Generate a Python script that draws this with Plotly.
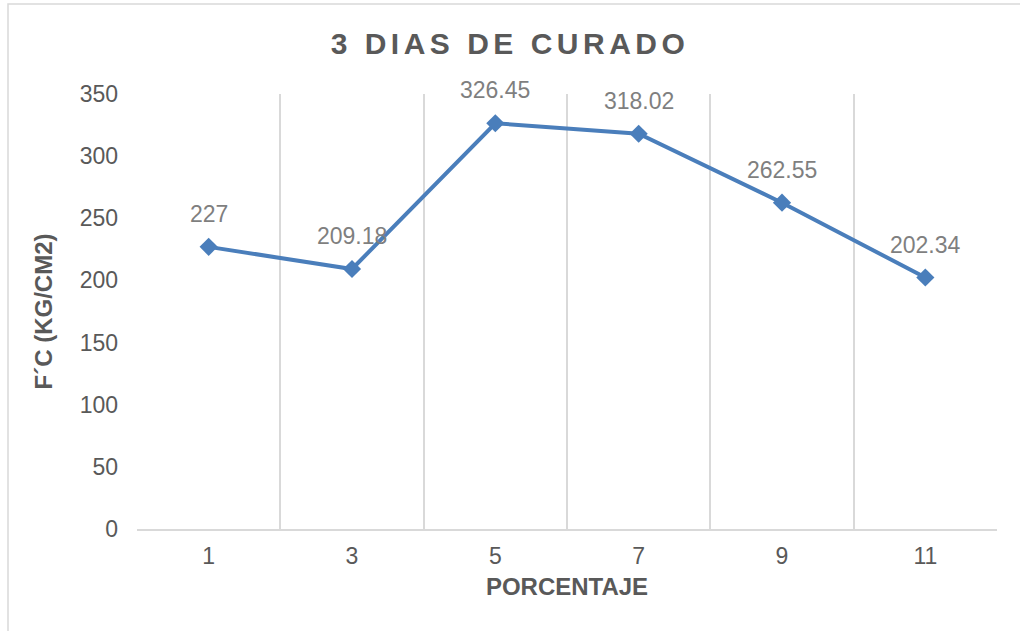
import plotly.graph_objects as go

categories = ["1", "3", "5", "7", "9", "11"]
values = [227, 209.18, 326.45, 318.02, 262.55, 202.34]
labels = ["227", "209.18", "326.45", "318.02", "262.55", "202.34"]
y_ticks = [0, 50, 100, 150, 200, 250, 300, 350]

title_text = "3 DIAS DE CURADO"
x_title = "PORCENTAJE"
y_title = "F´C (KG/CM2)"

blue = "#4a7ebb"
font_family = "Liberation Sans, Arial, sans-serif"

fig = go.Figure()
fig.add_trace(go.Scatter(
    x=categories, y=values, mode="lines+markers",
    line=dict(color=blue, width=4),
    marker=dict(symbol="diamond", size=14, color=blue),
    cliponaxis=False, showlegend=False,
))

# category axis positions are indices of the categories
for i, (v, t) in enumerate(zip(values, labels)):
    fig.add_annotation(
        x=i, y=v, xref="x", yref="y", text=t, showarrow=False,
        xanchor="center", yanchor="middle", yshift=33,
        font=dict(size=23, color="#7f7f7f", family=font_family),
    )

L, R, T, B = 137, 23, 94, 102
W, H = 1020, 631
pw, ph = W - L - R, H - T - B

fig.update_layout(
    width=W, height=H,
    margin=dict(l=L, r=R, t=T, b=B),
    paper_bgcolor="white", plot_bgcolor="white",
    font=dict(family=font_family, color="#595959"),
    title=dict(
        text='<span style="letter-spacing:4.5px">' + title_text + '</span>',
        x=0.5, xref="container", xanchor="center",
        y=1 - 43 / H, yanchor="middle",
        font=dict(size=30, color="#595959", family=font_family, weight="bold"),
    ),
    xaxis=dict(
        type="category", range=[-0.5, 5.5],
        tickson="boundaries", showgrid=True, gridcolor="#d9d9d9", gridwidth=1.5,
        ticks="", showline=True, linecolor="#d9d9d9", linewidth=1.5,
        tickfont=dict(size=23, color="#595959"), ticklabelstandoff=6,
        title=dict(text=x_title, font=dict(size=24, color="#595959", weight="bold"), standoff=10),
        zeroline=False,
    ),
    yaxis=dict(
        range=[0, 350], tickvals=y_ticks, showgrid=False, zeroline=False,
        showline=False, ticks="",
        tickfont=dict(size=23, color="#595959"), ticklabelstandoff=18,
        title=dict(text=y_title, font=dict(size=24, color="#595959", weight="bold"), standoff=20),
    ),
)

fig.add_shape(
    type="rect", xref="paper", yref="paper",
    x0=(8 - L) / pw, x1=(W + 10 - L) / pw,
    y0=(H - B - (H + 10)) / ph, y1=(H - B - 4) / ph,
    line=dict(color="#d9d9d9", width=1.5), layer="below",
)

fig.write_html("out.html", config={"displayModeBar": False},
               post_script="document.body.style.margin='0';")
